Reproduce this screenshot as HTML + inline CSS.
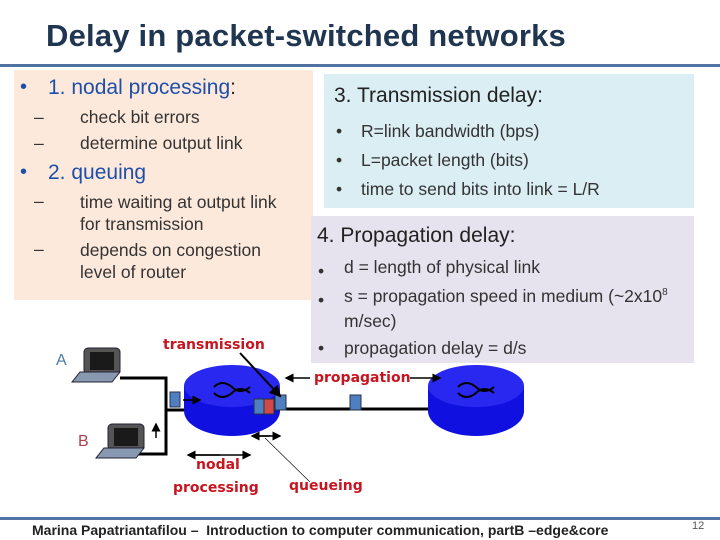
<!DOCTYPE html>
<html><head><meta charset="utf-8"><style>
body{margin:0;width:720px;height:540px;background:#fff;position:relative;overflow:hidden;font-family:"Liberation Sans","DejaVu Sans",sans-serif}
.a{position:absolute;white-space:nowrap}
.t{font-size:20px;color:#222}
.s{font-size:17.5px;color:#333}
.r{color:#c8141e;font-family:"DejaVu Sans",sans-serif;font-size:14px;font-weight:bold}
</style></head><body>
<div class="a" style="left:46px;top:18px;font-size:31px;font-weight:bold;color:#1f3550;letter-spacing:0.2px">Delay in packet-switched networks</div>
<div class="a" style="left:0;top:64px;width:720px;height:3px;background:#4f72a0"></div>
<div class="a" style="left:14px;top:70px;width:299px;height:230px;background:#fde9dc"></div>
<div class="a" style="left:324px;top:74px;width:370px;height:134px;background:#dbeef4"></div>
<div class="a" style="left:311px;top:216px;width:383px;height:147px;background:#e6e2ee"></div>
<div class="a t" style="left:20px;top:76px;color:#1e4fa8">•</div><div class="a t" style="left:48px;top:76px;color:#1e4fa8;font-size:21px">1. nodal processing<span style="color:#222">:</span></div>
<div class="a s" style="left:34px;top:107px">–</div><div class="a s" style="left:80px;top:107px">check bit errors</div>
<div class="a s" style="left:34px;top:133px">–</div><div class="a s" style="left:80px;top:133px">determine output link</div>
<div class="a t" style="left:20px;top:161px;color:#1e4fa8">•</div><div class="a t" style="left:48px;top:161px;color:#1e4fa8;font-size:21px">2. queuing</div>
<div class="a s" style="left:34px;top:191px">–</div><div class="a s" style="left:80px;top:191px;line-height:22px">time waiting at output link<br>for transmission</div>
<div class="a s" style="left:34px;top:239px">–</div><div class="a s" style="left:80px;top:239px;line-height:22px">depends on congestion<br>level of router</div>
<div class="a t" style="left:334px;top:84px;font-size:21px">3. Transmission delay:</div>
<div class="a s" style="left:336px;top:117px;line-height:29px">•<br>•<br>•</div>
<div class="a s" style="left:361px;top:117px;line-height:29px">R=link bandwidth (bps)<br>L=packet length (bits)<br>time to send bits into link = L/R</div>
<div class="a t" style="left:317px;top:224px;font-size:21px">4. Propagation delay:</div>
<div class="a s" style="left:318px;top:257px;line-height:29px">•<br>•</div>
<div class="a s" style="left:344px;top:257px">d = length of physical link</div>
<div class="a s" style="left:344px;top:286px">s = propagation speed in medium (~2x10<span style="font-size:10px;position:relative;top:-7px">8</span></div>
<div class="a s" style="left:344px;top:311px">m/sec)</div>
<div class="a s" style="left:318px;top:338px">•</div><div class="a s" style="left:344px;top:338px">propagation delay = d/s</div>
<svg class="a" style="left:0;top:0" width="720" height="540">
<defs><marker id="m" markerWidth="6" markerHeight="6" refX="5" refY="3" orient="auto"><path d="M0,0L6,3L0,6z" fill="#000"/></marker></defs>
<path d="M120,378H166V454H120" stroke="#000" stroke-width="3" fill="none"/>
<line x1="166" y1="410" x2="184" y2="410" stroke="#000" stroke-width="3"/>
<line x1="280" y1="409" x2="430" y2="409" stroke="#000" stroke-width="3"/>
<g fill="#1010e0"><rect x="184" y="386" width="96" height="25"/><ellipse cx="232" cy="411" rx="48" ry="25"/><ellipse cx="232" cy="386" rx="48" ry="21" fill="#2828f0"/></g>
<g fill="#1010e0"><rect x="428" y="386" width="96" height="25"/><ellipse cx="476" cy="411" rx="48" ry="25"/><ellipse cx="476" cy="386" rx="48" ry="21" fill="#2828f0"/></g>
<path d="M214,387q8,-8 18,0q8,8 18,0M214,393q8,8 18,0q8,-8 18,0" stroke="#000" stroke-width="2" fill="none"/>
<path d="M458,387q8,-8 18,0q8,8 18,0M458,393q8,8 18,0q8,-8 18,0" stroke="#000" stroke-width="2" fill="none"/>
<g stroke="#234" stroke-width="1"><rect x="170" y="392" width="10" height="15" fill="#4f7fc0"/><rect x="254" y="399" width="10" height="15" fill="#4f7fc0"/><rect x="264" y="399" width="10" height="15" fill="#d04848"/><rect x="275" y="395" width="11" height="15" fill="#4f7fc0"/><rect x="350" y="395" width="11" height="15" fill="#4f7fc0"/></g>
<line x1="183" y1="400" x2="200" y2="400" stroke="#000" stroke-width="1.5" marker-end="url(#m)"/>
<line x1="156" y1="438" x2="156" y2="424" stroke="#000" stroke-width="1.5" marker-end="url(#m)"/>
<line x1="240" y1="353" x2="280" y2="396" stroke="#000" stroke-width="2" marker-end="url(#m)"/>
<line x1="310" y1="378" x2="286" y2="378" stroke="#000" stroke-width="1.5" marker-end="url(#m)"/>
<line x1="410" y1="378" x2="440" y2="378" stroke="#000" stroke-width="1.5" marker-end="url(#m)"/>
<line x1="190" y1="455" x2="250" y2="455" stroke="#000" stroke-width="1.5" marker-end="url(#m)"/><line x1="220" y1="455" x2="188" y2="455" stroke="#000" stroke-width="1.5" marker-end="url(#m)"/>
<line x1="255" y1="436" x2="280" y2="436" stroke="#000" stroke-width="1.5" marker-end="url(#m)"/><line x1="270" y1="436" x2="252" y2="436" stroke="#000" stroke-width="1.5" marker-end="url(#m)"/>
<line x1="265" y1="438" x2="310" y2="482" stroke="#000" stroke-width="0.6"/>
<g><rect x="84" y="348" width="36" height="26" rx="4" fill="#555" stroke="#223" /><rect x="90" y="352" width="24" height="18" fill="#1a1a1a"/><path d="M80,372h40l-8,10h-40z" fill="#8898b0" stroke="#223"/></g>
<g><rect x="108" y="424" width="36" height="26" rx="4" fill="#555" stroke="#223"/><rect x="114" y="428" width="24" height="18" fill="#1a1a1a"/><path d="M104,448h40l-8,10h-40z" fill="#8898b0" stroke="#223"/></g>
<text x="56" y="365" font-size="16" fill="#4a7aa8" font-family="Liberation Sans">A</text>
<text x="78" y="446" font-size="16" fill="#b04050" font-family="Liberation Sans">B</text>
</svg>
<div class="a r" style="left:163px;top:337px">transmission</div>
<div class="a r" style="left:314px;top:370px">propagation</div>
<div class="a r" style="left:196px;top:457px">nodal</div>
<div class="a r" style="left:173px;top:480px">processing</div>
<div class="a r" style="left:289px;top:478px">queueing</div>
<div class="a" style="left:0;top:517px;width:720px;height:3px;background:#4f72a0"></div>
<div class="a" style="left:32px;top:522px;font-size:14px;font-weight:bold;color:#222">Marina Papatriantafilou –&nbsp; Introduction to computer communication, partB –edge&amp;core</div>
<div class="a" style="left:692px;top:520px;font-size:11px;color:#555">12</div>
</body></html>
